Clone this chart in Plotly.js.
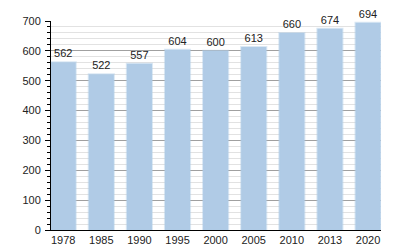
<!DOCTYPE html>
<html><head><meta charset="utf-8">
<script src="https://cdn.plot.ly/plotly-3.0.1.min.js"></script>
<style>html,body{margin:0;padding:0;background:#fff}#c{width:400px;height:250px}</style>
</head><body><div id="c"></div>
<script>
const years = ["1978","1985","1990","1995","2000","2005","2010","2013","2020"];
const population = [562,522,557,604,600,613,660,674,694];
const yTicks = [0,100,200,300,400,500,600,700];

Plotly.newPlot('c', [{
  type:'bar', x: years, y: population,
  text: population.map(String), textposition:'outside', cliponaxis:false,
  textfont:{family:'Liberation Sans, Arial, sans-serif', size:11, color:'#222'},
  marker:{color:'#b0cbe6', line:{color:'rgba(176,203,230,0.45)', width:2}},
  width:0.66, hoverinfo:'none'
}], {
  width:400, height:250,
  margin:{l:51, r:19, t:21, b:20},
  paper_bgcolor:'#fff', plot_bgcolor:'#fff',
  showlegend:false,
  font:{family:'Liberation Sans, Arial, sans-serif', size:11, color:'#222'},
  xaxis:{type:'category', range:[-0.32,8.34], showline:true, linecolor:'#000', linewidth:1,
         ticks:'', showgrid:false, zeroline:false, tickfont:{size:11}, fixedrange:true},
  yaxis:{range:[0,700], tickvals:yTicks, showline:true, linecolor:'#000', linewidth:1,
         ticks:'outside', ticklen:5, tickcolor:'#000', ticklabelstandoff:2,
         showgrid:true, gridcolor:'#a0a0a0', gridwidth:1, zeroline:false,
         minor:{dtick:20, ticks:'outside', ticklen:3, tickcolor:'#000', showgrid:true, gridcolor:'#e2e2e2', gridwidth:1},
         tickfont:{size:11}, fixedrange:true}
}, {staticPlot:true, displayModeBar:false});
</script></body></html>
